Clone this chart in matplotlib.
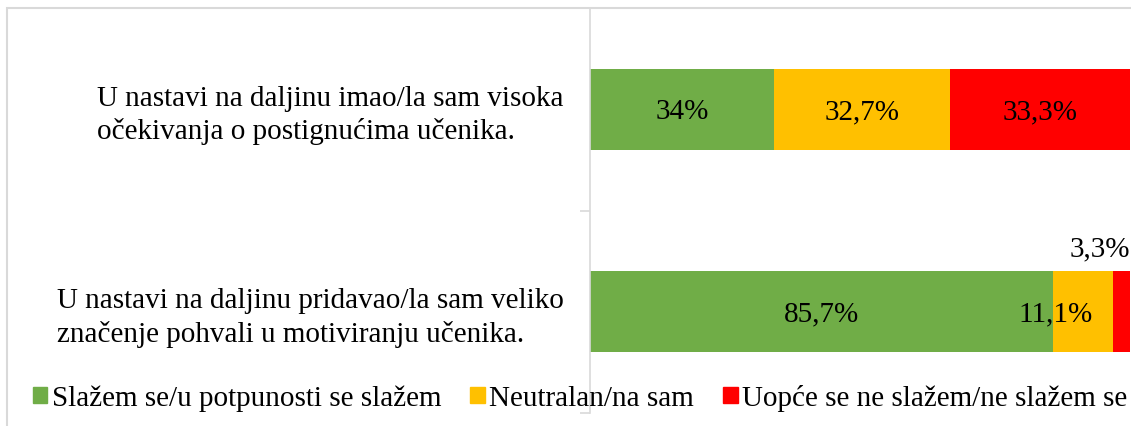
import matplotlib
matplotlib.use("Agg")
import matplotlib.pyplot as plt
from matplotlib.patches import Rectangle, Patch

# data (percent of respondents)
statements = [
    "U nastavi na daljinu imao/la sam visoka\nočekivanja o postignućima učenika.",
    "U nastavi na daljinu pridavao/la sam veliko\nznačenje pohvali u motiviranju učenika.",
]
series_names = [
    "Slažem se/u potpunosti se slažem",
    "Neutralan/na sam",
    "Uopće se ne slažem/ne slažem se",
]
agree = [34.0, 85.7]
neutral = [32.7, 11.1]
disagree = [33.3, 3.3]
value_labels = [
    ["34%", "32,7%", "33,3%"],
    ["85,7%", "11,1%", "3,3%"],
]

colors = ["#70AD47", "#FFC000", "#FF0000"]
FONT = "Liberation Serif"
FS = 21

W, H = 1131, 426
fig = plt.figure(figsize=(W / 100, H / 100), dpi=100)
ax = fig.add_axes([590 / W, 1 - 413 / H, 540 / W, 405 / H])

ypos = [1, 0]
left = [0.0, 0.0]
for vals, col, name in zip([agree, neutral, disagree], colors, series_names):
    ax.barh(ypos, vals, left=left, height=0.4, color=col, label=name)
    left = [l + v for l, v in zip(left, vals)]

# data labels
for i, y in enumerate(ypos):
    segs = [agree[i], neutral[i], disagree[i]]
    starts = [0, agree[i], agree[i] + neutral[i]]
    for j, (s, v) in enumerate(zip(starts, segs)):
        txt = value_labels[i][j]
        if v >= 15:
            ax.text(s + v / 2, y - 0.015, txt, ha="center", va="center", fontsize=FS, family=FONT)
        elif v >= 5:
            # narrow segment: label sits over the boundary, as in the original
            ax.text(s + v * 0.04, y - 0.015, txt, ha="center", va="center", fontsize=FS, family=FONT)
        else:
            ax.text(s + v, y + 0.31, txt, ha="right", va="center", fontsize=FS, family=FONT)

ax.set_xlim(0, 100)
ax.set_ylim(-0.5, 1.5)
ax.set_xticks([])
ax.set_yticks(ypos)
ax.set_yticklabels(statements, fontsize=FS, family=FONT, ha="right", linespacing=1.3)
for lab in ax.get_yticklabels():
    lab.set_multialignment("left")
ax.tick_params(axis="y", which="major", length=0, pad=19)
ax.set_yticks([-0.5, 0.5, 1.5], minor=True)
ax.tick_params(axis="y", which="minor", length=7, color="#d9d9d9", width=1.2)
for side in ["top", "right", "bottom"]:
    ax.spines[side].set_visible(False)
ax.spines["left"].set_color("#d9d9d9")
ax.spines["left"].set_linewidth(1.2)

# chart area border
fig.add_artist(Rectangle((7 / W, -0.1), 1.2, 1 - 8 / H + 0.1, transform=fig.transFigure,
                         fill=False, edgecolor="#d9d9d9", linewidth=1.5))

handles = [Patch(color=c) for c in colors]
fig.legend(handles, series_names, loc="center", bbox_to_anchor=(580 / W, 1 - 398 / H), ncol=3,
           frameon=False, prop={"family": FONT, "size": FS}, handlelength=0.5, handleheight=0.5,
           handletextpad=0.15, columnspacing=1.0)

fig.savefig("out.png", dpi=100)
